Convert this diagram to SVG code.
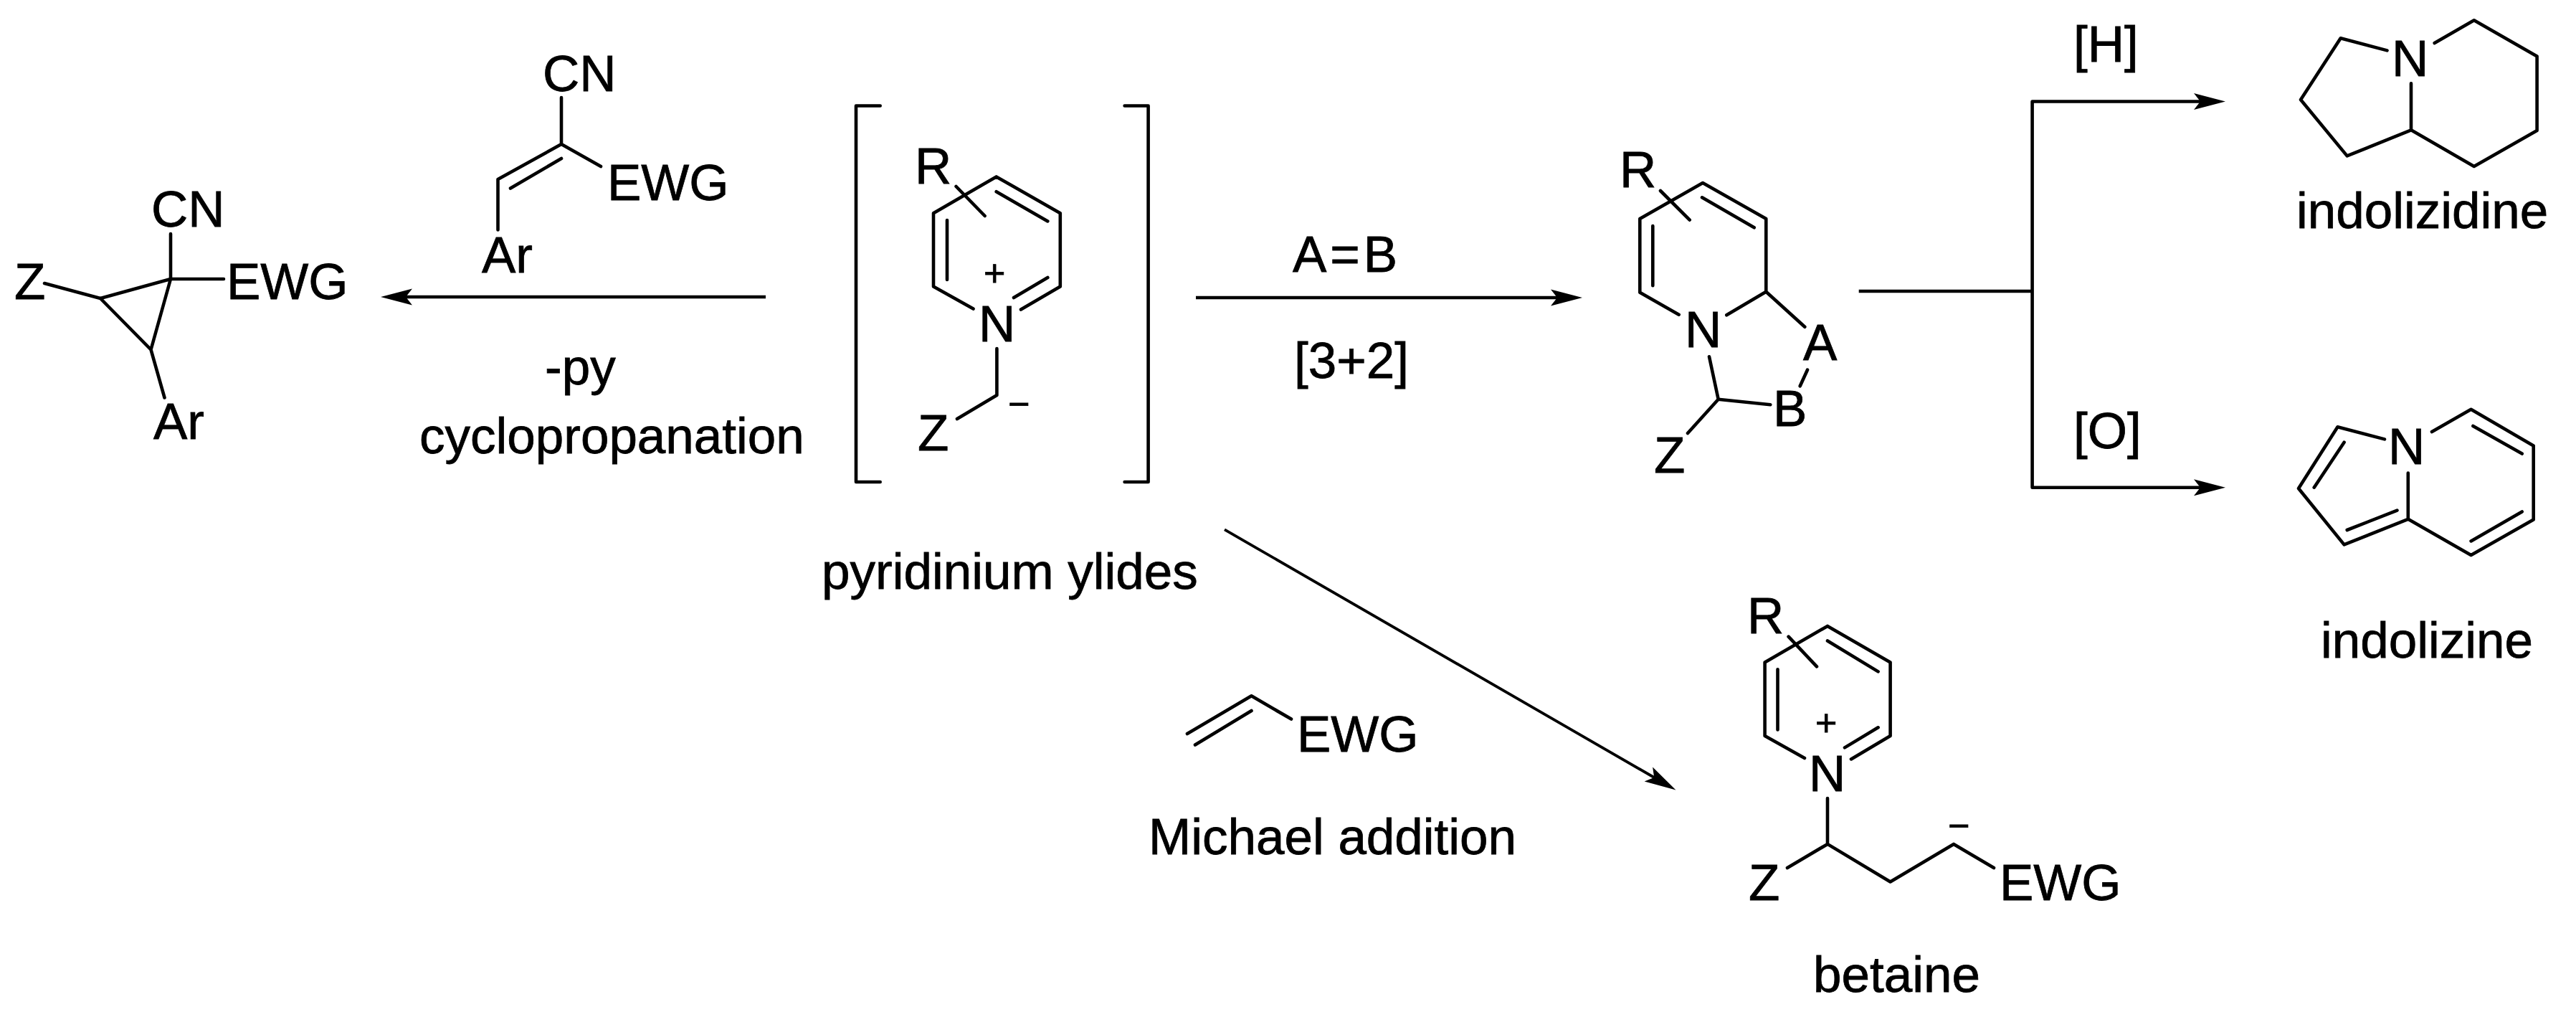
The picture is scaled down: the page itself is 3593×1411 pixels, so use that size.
<svg xmlns="http://www.w3.org/2000/svg" width="3593" height="1411" viewBox="0 0 3593 1411">
<style>
text{font-family:"Liberation Sans",Arial,sans-serif;font-size:71px;fill:#000;stroke:#000;stroke-width:0.8}
.chg{font-size:52px}
path,line,polyline{fill:none;stroke:#000;stroke-width:4.6;stroke-linecap:round;stroke-linejoin:round}
.c{stroke-linecap:butt;stroke-width:4.6}
.d{stroke-width:3.8}
.ah{fill:#000;stroke:none}
rect.bg{fill:#fff;stroke:none}
</style>
<defs>
<marker id="arr" markerUnits="userSpaceOnUse" markerWidth="46" markerHeight="26" refX="23" refY="12" orient="auto" viewBox="0 0 46 26" overflow="visible"><path class="ah" d="M44 12 L0 0.5 L9 12 L0 23.5Z"/></marker>
</defs>
<rect class="bg" x="0" y="0" width="3593" height="1411"/>
<g id="connectors">
<line class="c" x1="1068" y1="414" x2="552" y2="414" marker-end="url(#arr)"/>
<line class="c" x1="1668" y1="415" x2="2186" y2="415" marker-end="url(#arr)"/>
<line class="c d" x1="1708" y1="738.4" x2="2319.3" y2="1091" marker-end="url(#arr)"/>
<line class="c" x1="2592.7" y1="406" x2="2834.6" y2="406"/>
<polyline class="c" points="2834.6,406 2834.6,141.5 3083,141.5" marker-end="url(#arr)"/>
<polyline class="c" points="2834.6,406 2834.6,679.7 3083,679.7" marker-end="url(#arr)"/>
</g>
<g id="cyclopropane">
<path d="M238 326V389M238 389L140 416M238 389L210.5 487.5M140 416L210.5 487.5M62 395L140 416M238 389H312M210.5 487.5L229.5 554.5"/>
<text x="211" y="316">CN</text><text x="20" y="417">Z</text><text x="316" y="417">EWG</text><text x="214" y="611.6">Ar</text>
</g>
<g id="alkene">
<path d="M783 136V201L694.5 250V320.5M783 221L712 262.5M783 201L838 232"/>
<text x="757" y="127">CN</text><text x="847" y="279">EWG</text><text x="672" y="379.5">Ar</text>
</g>
<g id="cond-left">
<text x="760" y="536">-py</text><text x="585" y="632">cyclopropanation</text>
</g>
<g id="ylide">
<path d="M1227.7 147.5H1194V672H1227.7M1568.6 147.5H1601.6V672H1568.6"/>
<path d="M1357.5 430.6L1302 399.6V297.3L1389.7 246.4L1478.8 297.3V399.6L1424 431.6M1389.7 267.2L1461.3 308.4M1321 307V390M1461.3 387L1414 415M1333.6 260L1373.6 301M1390.4 486V551L1335 584"/>
<text x="1276" y="256">R</text><text x="1365" y="475.7">N</text><text class="chg" x="1372" y="399">+</text><text class="chg" x="1406" y="581">−</text><text x="1280" y="628.4">Z</text>
<text x="1146" y="820.8">pyridinium ylides</text>
</g>
<g id="cond-mid">
<text x="1803" y="378.7" letter-spacing="5">A=B</text><text x="1805" y="526.6">[3+2]</text>
</g>
<g id="adduct">
<path d="M2341.7 438.7L2287.3 407.7V305L2375 255L2463.3 305V406.7L2408.3 439.3M2374 275.3L2446.7 317.3M2305.3 315V398.3M2316 266L2356.7 306.7M2384 497.3L2396.7 556.7L2469.3 564.3M2396.7 556.7L2354 604M2463.3 406.7L2517.3 455.7M2521 515.7L2510.7 538.3"/>
<text x="2259" y="260.7">R</text><text x="2350" y="484.3">N</text><text x="2307" y="659.3">Z</text><text x="2515" y="501.7">A</text><text x="2473" y="594.3">B</text>
</g>
<g id="cond-right">
<text x="2892" y="85.7">[H]</text><text x="2892" y="624.6">[O]</text>
</g>
<g id="indolizidine">
<path d="M3329.5 70.4L3264.7 53.3L3209 139L3273.7 217.4L3363 181.3V116.3M3363 181.3L3450.8 232L3538.6 181.9V78.4L3450.8 28.2L3395.7 60"/>
<text x="3336" y="106">N</text><text x="3203" y="318.4">indolizidine</text>
</g>
<g id="indolizine">
<path d="M3326 612.4L3260.5 595.2L3206 681L3269.6 759.4L3358.8 723.8V659.5M3358.8 723.8L3446.6 774L3533.7 724.4V621.6L3446.6 570.7L3392 602M3269.6 616.7L3227.7 679.7M3273.7 739L3343.5 711.6M3446.6 754.4L3517.7 713.4M3517.7 632.6L3449.4 594"/>
<text x="3331" y="647.3">N</text><text x="3237" y="917.3">indolizine</text>
</g>
<g id="michael-acceptor">
<path d="M1745.5 970.3L1656 1023M1745.5 991L1667 1038.5M1745.5 970.3L1801 1002.6"/>
<text x="1809" y="1048">EWG</text>
<text x="1602" y="1190.5">Michael addition</text>
</g>
<g id="betaine">
<path d="M2517 1057L2461.6 1026V923.5L2549 872.9L2636.6 923.5V1026L2582 1058.4M2549 893.5L2619.6 936.4M2479.5 933.3V1017.5M2619.6 1014.3L2573 1042.4M2494.6 887.7L2534 929.4M2549 1113V1176.9L2493 1210M2549 1176.9L2636.6 1229.5L2725 1176.9L2781 1210"/>
<text x="2437" y="883">R</text><text x="2523" y="1103">N</text><text class="chg" x="2532" y="1026">+</text><text class="chg" x="2717" y="1169">−</text><text x="2439" y="1254.8">Z</text><text x="2789" y="1254.8">EWG</text>
<text x="2529" y="1382.6">betaine</text>
</g>
</svg>
